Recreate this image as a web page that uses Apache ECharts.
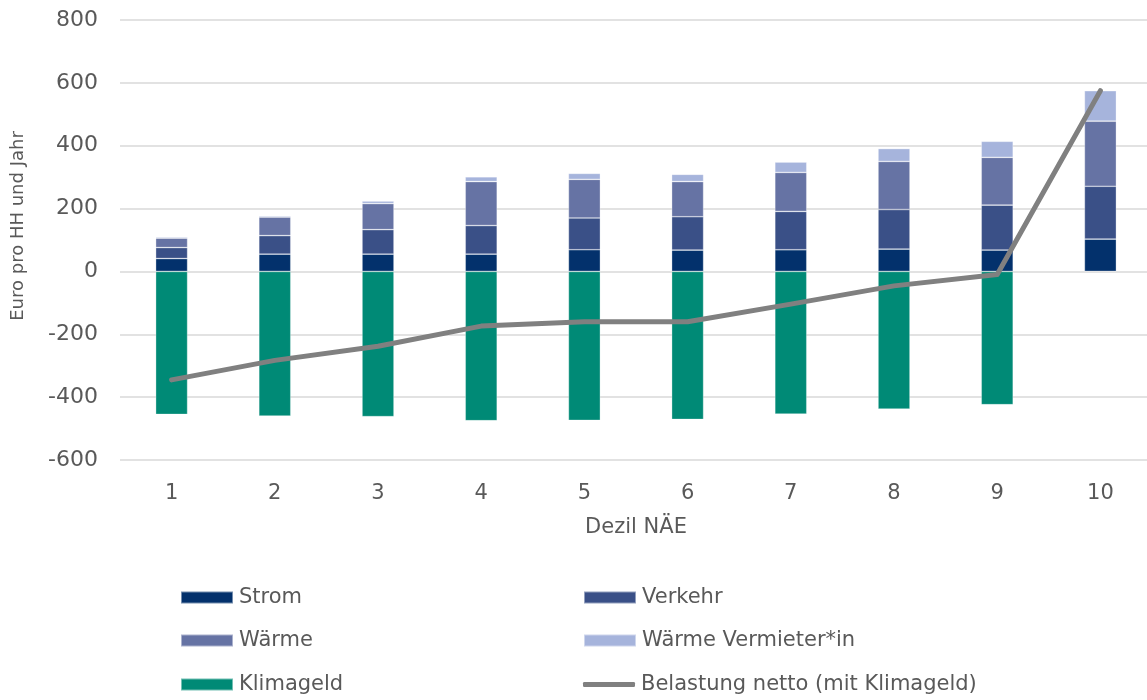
<!DOCTYPE html>
<html>
<head>
<meta charset="utf-8">
<script src="https://cdn.jsdelivr.net/npm/echarts@6/dist/echarts.min.js"></script>
<style>
  html, body { margin: 0; padding: 0; background: #ffffff; }
  #chart { width: 1147px; height: 700px; }
</style>
</head>
<body>
<div id="chart"></div>
<script>
// Household burden per income decile (Euro pro Haushalt und Jahr)
const deciles = ['1', '2', '3', '4', '5', '6', '7', '8', '9', '10'];
const strom = [41, 55, 55, 55, 69, 68, 69, 71, 68, 103];
const verkehr = [35, 59, 78, 91, 101, 106, 122, 126, 143, 168];
const waerme = [30, 59, 83, 140, 123, 112, 124, 153, 152, 207];
const waermeVermieter = [4, 4, 8, 15, 19, 23, 33, 41, 51, 97];
const klimageld = [-455, -460, -462, -475, -474, -471, -454, -438, -424, null];
const belastungNetto = [-345, -283, -238, -174, -160, -160, -104, -46, -10, 575];
const yTicks = { min: -600, max: 800, step: 200 };

const textColor = '#595959';
const fontFamily = '"DejaVu Sans", sans-serif';

const colors = {
  'Strom': '#03316c',
  'Verkehr': '#3a5087',
  'Wärme': '#6673a4',
  'Wärme Vermieter*in': '#a6b4dc',
  'Klimageld': '#008a76',
  'Belastung netto (mit Klimageld)': '#808080'
};

function barSeries(name, data) {
  return {
    name: name,
    type: 'bar',
    stack: 'total',
    barWidth: 32,
    data: data,
    itemStyle: { color: colors[name], borderColor: 'rgba(255,255,255,0.45)', borderWidth: 0.7 }
  };
}

// Legend laid out as two columns of three entries
const legendItems = [
  { name: 'Strom', left: 180, top: 587 },
  { name: 'Verkehr', left: 583, top: 587 },
  { name: 'Wärme', left: 180, top: 630 },
  { name: 'Wärme Vermieter*in', left: 583, top: 630 },
  { name: 'Klimageld', left: 180, top: 674 },
  { name: 'Belastung netto (mit Klimageld)', left: 583, top: 674 }
];

const lineName = 'Belastung netto (mit Klimageld)';
const legends = legendItems.map(it => ({
  data: [it.name === lineName
    ? { name: it.name, icon: 'roundRect', itemStyle: { color: colors[it.name] } }
    : { name: it.name, icon: 'rect' }],
  left: it.left,
  top: it.top,
  itemWidth: 52,
  itemHeight: it.name === lineName ? 5 : 12,
  itemGap: 0,
  padding: 0,
  selectedMode: false,
  textStyle: { color: textColor, fontSize: 21, fontFamily: fontFamily, padding: [0, 0, 0, 1] }
}));

const chart = echarts.init(document.getElementById('chart'), null, { renderer: 'canvas' });

chart.setOption({
  animation: false,
  textStyle: { fontFamily: fontFamily },
  grid: { left: 120, top: 20, width: 1032, height: 440, containLabel: false, outerBoundsMode: 'none' },
  legend: legends,
  xAxis: {
    type: 'category',
    data: deciles,
    name: 'Dezil NÄE',
    nameLocation: 'middle',
    nameGap: 57,
    nameTextStyle: { color: textColor, fontSize: 21, fontFamily: fontFamily },
    axisLine: { show: false },
    axisTick: { show: false },
    axisLabel: { color: textColor, fontSize: 21, margin: 23, fontFamily: fontFamily }
  },
  yAxis: {
    type: 'value',
    min: yTicks.min,
    max: yTicks.max,
    interval: yTicks.step,
    name: 'Euro pro HH und Jahr',
    nameLocation: 'middle',
    nameGap: 93,
    nameRotate: 90,
    nameTextStyle: { color: textColor, fontSize: 18, fontFamily: fontFamily, padding: [0, 0, 0, 28] },
    axisLine: { show: false },
    axisTick: { show: false },
    axisLabel: { color: textColor, fontSize: 22, margin: 22, fontFamily: fontFamily },
    splitLine: { lineStyle: { color: '#d9d9d9', width: 1.5 } }
  },
  series: [
    barSeries('Strom', strom),
    barSeries('Verkehr', verkehr),
    barSeries('Wärme', waerme),
    barSeries('Wärme Vermieter*in', waermeVermieter),
    barSeries('Klimageld', klimageld),
    {
      name: lineName,
      type: 'line',
      data: belastungNetto,
      showSymbol: false,
      symbol: 'none',
      z: 5,
      lineStyle: { color: colors[lineName], width: 5, cap: 'round', join: 'round' },
      itemStyle: { color: colors[lineName] }
    }
  ]
});
</script>
</body>
</html>
